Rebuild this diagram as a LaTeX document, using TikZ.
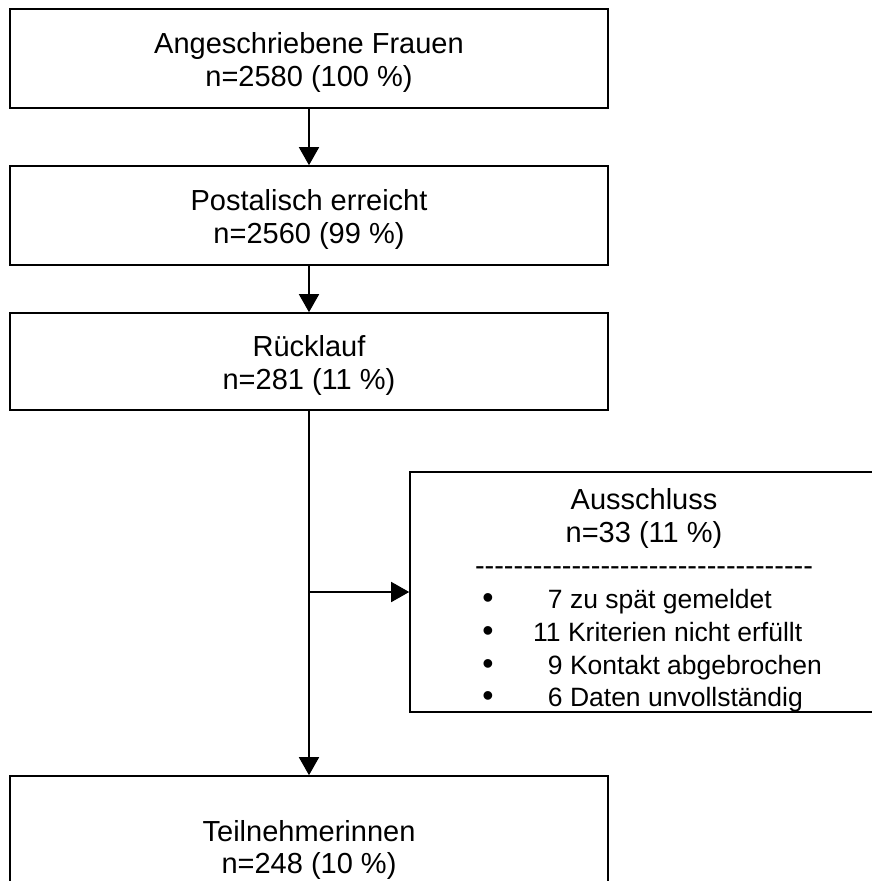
\documentclass[tikz,border=0pt]{standalone}
\usepackage{fontspec}
\setmainfont{Liberation Sans}
\usetikzlibrary{arrows.meta}
\newcommand\hy{-\kern0pt}
\begin{document}
\begin{tikzpicture}[x=1pt,y=-1pt,
  mainfont/.style={font=\fontsize{29}{33}\selectfont},
  listfont/.style={font=\fontsize{26.5}{33}\selectfont},
  box/.style={draw, line width=1.6pt, minimum width=598pt, inner sep=0pt},
  frame/.style={draw, line width=1.6pt, inner sep=0pt},
  txt/.style={inner sep=0pt, anchor=base, mainfont},
  arr/.style={line width=1.6pt, -{Triangle[length=18pt,width=20pt]}}]
\clip (0,0) rectangle (872,881);
% main boxes
\node[box, minimum height=99pt] (b1) at (309,58.5) {};
\node[box, minimum height=99pt] (b2) at (309,215.5) {};
\node[box, minimum height=97pt] (b3) at (309,361.5) {};
\node[box, minimum height=130pt] (b4) at (309,841) {};
\node[txt] (t1a) at (309,53) {Angeschriebene Frauen};
\node[txt] (t1b) at (309,86) {n=2580 (100 \%)};
\node[txt] (t2a) at (309,210) {Postalisch erreicht};
\node[txt] (t2b) at (309,243) {n=2560 (99 \%)};
\node[txt] (t3a) at (309,356) {Rücklauf};
\node[txt] (t3b) at (309,389) {n=281 (11 \%)};
\node[txt] (t4a) at (309,841) {Teilnehmerinnen};
\node[txt] (t4b) at (309,873) {n=248 (10 \%)};
% exclusion box
\node[frame, minimum width=468pt, minimum height=240pt] (aus) at (644,592) {};
\node[txt] (ah) at (644,509) {Ausschluss};
\node[txt] (an) at (644,542) {n=33 (11 \%)};
\node[txt] (ad) at (644,575) {\hy\hy\hy\hy\hy\hy\hy\hy\hy\hy\hy\hy\hy\hy\hy\hy\hy\hy\hy\hy\hy\hy\hy\hy\hy\hy\hy\hy\hy\hy\hy\hy\hy\hy\hy};
\foreach \yy/\t [count=\i] in {608/\hphantom{1}7 zu spät gemeldet,641/11 Kriterien nicht erfüllt,674/\hphantom{1}9 Kontakt abgebrochen,706/\hphantom{1}6 Daten unvollständig}{
  \node[txt, font=\fontsize{32}{33}\selectfont] (bul\i) at (488,\yy) {•};
  \node[txt, listfont, anchor=base west] (li\i) at (533,\yy) {\t};
}
% connectors
\draw[arr] (b1.south) -- (b2.north);
\draw[arr] (b2.south) -- (b3.north);
\draw[arr] (b3.south) -- (b4.north);
\coordinate (br) at (b3.south |- aus.west);
\draw[arr] (br) -- (aus.west);
\end{tikzpicture}
\end{document}
